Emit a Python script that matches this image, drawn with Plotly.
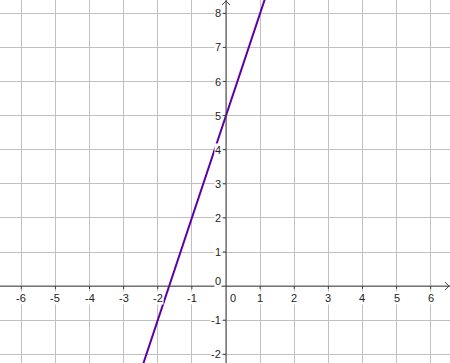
import plotly.graph_objects as go

# Data: line y = 3x + 5
line_x = [-2.5, 1.2]
line_y = [-2.5, 8.6]

x_ticks = [-6, -5, -4, -3, -2, -1, 0, 1, 2, 3, 4, 5, 6]
y_ticks = [-2, -1, 0, 1, 2, 3, 4, 5, 6, 7, 8]
x_labels = [str(v) for v in x_ticks]
y_labels = [str(v) for v in y_ticks]

XR = [-6.624, 6.565]
YR = [-2.255, 8.39]
AXIS_COL = "#404040"
LABEL_FONT = dict(family="Liberation Sans, Arial", size=11, color="#222222")

fig = go.Figure()

fig.add_trace(go.Scatter(x=line_x, y=line_y, mode="lines",
                         line=dict(color="rgb(92,0,165)", width=2),
                         hoverinfo="skip", showlegend=False))

annotations = []
for v, t in zip(x_ticks, x_labels):
    if v == 0:
        annotations.append(dict(x=v, y=0, xref="x", yref="y", text=t, showarrow=False,
                                xanchor="left", yanchor="top", xshift=3, yshift=-5,
                                font=LABEL_FONT, bgcolor="white", borderpad=0))
    else:
        annotations.append(dict(x=v, y=0, xref="x", yref="y", text=t, showarrow=False,
                                xanchor="center", yanchor="top", yshift=-5,
                                font=LABEL_FONT, bgcolor="white", borderpad=0))
for v, t in zip(y_ticks, y_labels):
    if v == 0:
        annotations.append(dict(x=0, y=v, xref="x", yref="y", text=t, showarrow=False,
                                xanchor="right", yanchor="bottom", xshift=-4, yshift=-2,
                                font=LABEL_FONT, bgcolor="white", borderpad=0))
    else:
        annotations.append(dict(x=0, y=v, xref="x", yref="y", text=t, showarrow=False,
                                xanchor="right", yanchor="middle", xshift=-4,
                                font=LABEL_FONT, bgcolor="white", borderpad=0))

shapes = [
    # x axis
    dict(type="line", xref="x", yref="y", x0=XR[0], x1=XR[1], y0=0, y1=0,
         line=dict(color=AXIS_COL, width=1)),
    # y axis
    dict(type="line", xref="x", yref="y", x0=0, x1=0, y0=YR[0], y1=YR[1],
         line=dict(color=AXIS_COL, width=1)),
    # x arrow head
    dict(type="path", xref="x", yref="y", xsizemode="pixel", ysizemode="pixel",
         xanchor=XR[1], yanchor=0, path="M -5,4 L -1,0 L -5,-4",
         line=dict(color=AXIS_COL, width=1)),
    # y arrow head
    dict(type="path", xref="x", yref="y", xsizemode="pixel", ysizemode="pixel",
         xanchor=0, yanchor=YR[1], path="M -4,-5 L 0,-1 L 4,-5",
         line=dict(color=AXIS_COL, width=1)),
]
# one-sided tick marks
for v in x_ticks:
    if v != 0:
        shapes.append(dict(type="path", xref="x", yref="y", xsizemode="pixel", ysizemode="pixel",
                           xanchor=v, yanchor=0, path="M 0,0 L 0,-3",
                           line=dict(color=AXIS_COL, width=1)))
for v in y_ticks:
    if v != 0:
        shapes.append(dict(type="path", xref="x", yref="y", xsizemode="pixel", ysizemode="pixel",
                           xanchor=0, yanchor=v, path="M 0,0 L -3,0",
                           line=dict(color=AXIS_COL, width=1)))

fig.update_layout(
    width=450, height=363,
    margin=dict(l=0, r=0, t=0, b=0),
    paper_bgcolor="white", plot_bgcolor="white",
    xaxis=dict(range=XR, dtick=1, tick0=0, showgrid=True, gridcolor="#c0c0c0", gridwidth=1,
               zeroline=False, showticklabels=False, ticks="", showline=False, fixedrange=True),
    yaxis=dict(range=YR, dtick=1, tick0=0, showgrid=True, gridcolor="#c0c0c0", gridwidth=1,
               zeroline=False, showticklabels=False, ticks="", showline=False, fixedrange=True),
    annotations=annotations,
    shapes=shapes,
    showlegend=False,
)

fig.write_html("out.html")
